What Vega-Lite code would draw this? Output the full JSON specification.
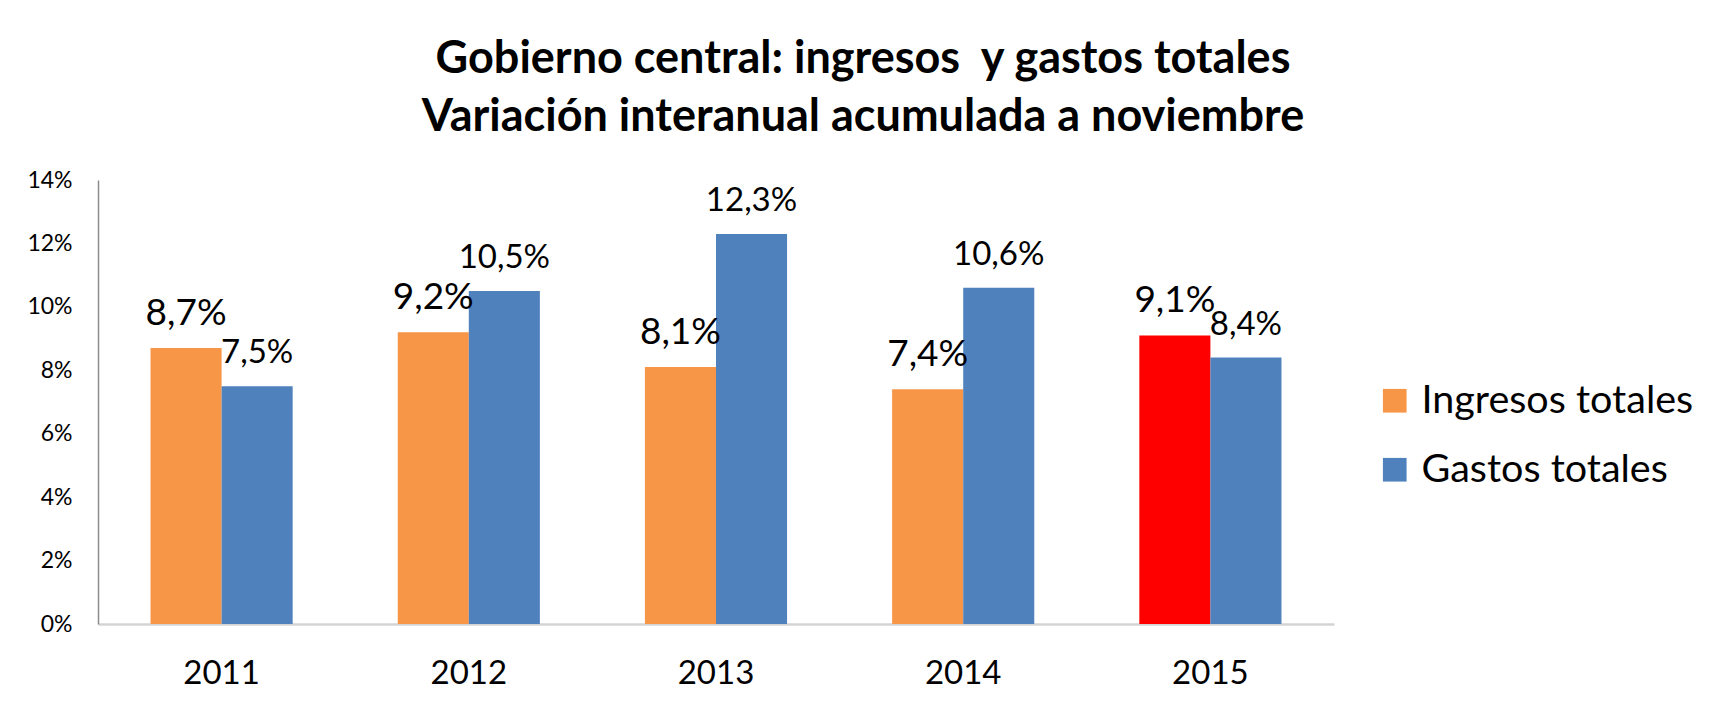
{
  "$schema": "https://vega.github.io/schema/vega-lite/v6.json",
  "autosize": {"type": "none"},
  "width": 1236,
  "height": 444,
  "padding": {"left": 98, "top": 180, "right": 376, "bottom": 81},
  "background": "white",
  "config": {
    "font": "Lato",
    "view": {"stroke": null},
    "locale": {"number": {"decimal": ",", "thousands": ".", "grouping": [3], "currency": ["", " €"]}}
  },
  "title": {
    "text": ["Gobierno central: ingresos\u00a0 y gastos totales", "Variación interanual acumulada a noviembre"],
    "fontSize": 45,
    "fontWeight": "bold",
    "lineHeight": 58,
    "color": "black",
    "anchor": "middle",
    "baseline": "alphabetic",
    "offset": -7,
    "dx": 147
  },
  "data": {
    "values": [
      {"anio": "2011", "serie": "Ingresos totales", "valor": 0.087},
      {"anio": "2011", "serie": "Gastos totales", "valor": 0.075},
      {"anio": "2012", "serie": "Ingresos totales", "valor": 0.092},
      {"anio": "2012", "serie": "Gastos totales", "valor": 0.105},
      {"anio": "2013", "serie": "Ingresos totales", "valor": 0.081},
      {"anio": "2013", "serie": "Gastos totales", "valor": 0.123},
      {"anio": "2014", "serie": "Ingresos totales", "valor": 0.074},
      {"anio": "2014", "serie": "Gastos totales", "valor": 0.106},
      {"anio": "2015", "serie": "Ingresos totales", "valor": 0.091},
      {"anio": "2015", "serie": "Gastos totales", "valor": 0.084}
    ]
  },
  "encoding": {
    "x": {
      "field": "anio",
      "type": "nominal",
      "sort": ["2011", "2012", "2013", "2014", "2015"],
      "scale": {"paddingInner": 0.425, "paddingOuter": 0.2125},
      "axis": {
        "title": null,
        "labelAngle": 0,
        "labelFontSize": 33,
        "labelColor": "black",
        "labelBaseline": "alphabetic",
        "labelPadding": 59,
        "ticks": false,
        "tickSize": 0,
        "domainColor": "#d4d4d4",
        "domainWidth": 2.5
      }
    },
    "xOffset": {
      "field": "serie",
      "type": "nominal",
      "sort": ["Ingresos totales", "Gastos totales"],
      "scale": {"paddingInner": 0, "paddingOuter": 0}
    },
    "y": {
      "field": "valor",
      "type": "quantitative",
      "scale": {"domain": [0, 0.14], "nice": false},
      "axis": {
        "title": null,
        "values": [0, 0.02, 0.04, 0.06, 0.08, 0.1, 0.12, 0.14],
        "format": ".0%",
        "grid": false,
        "ticks": false,
        "tickSize": 0,
        "labelFontSize": 23,
        "labelColor": "black",
        "labelPadding": 26,
        "domainColor": "#8c8c8c",
        "domainWidth": 1.5
      }
    }
  },
  "layer": [
    {
      "mark": {"type": "bar"},
      "encoding": {
        "color": {
          "condition": {"test": "datum.anio === '2015' && datum.serie === 'Ingresos totales'", "value": "#FF0000"},
          "field": "serie",
          "type": "nominal",
          "sort": ["Ingresos totales", "Gastos totales"],
          "scale": {"domain": ["Ingresos totales", "Gastos totales"], "range": ["#F79646", "#4F81BD"]},
          "legend": {
            "title": null,
            "orient": "none",
            "legendX": 1277,
            "legendY": 201,
            "padding": 0,
            "symbolType": "square",
            "symbolSize": 560,
            "symbolStrokeWidth": 0,
            "labelFontSize": 39.5,
            "labelColor": "black",
            "labelOffset": 7,
            "rowPadding": 28,
            "labelLimit": 400
          }
        }
      }
    },
    {
      "mark": {"type": "text", "baseline": "alphabetic", "align": "center", "dy": -23, "color": "black"},
      "encoding": {
        "text": {"field": "valor", "type": "quantitative", "format": ".1%"},
        "size": {
          "condition": {"test": "datum.serie === 'Ingresos totales'", "value": 37},
          "value": 33
        }
      }
    }
  ]
}
